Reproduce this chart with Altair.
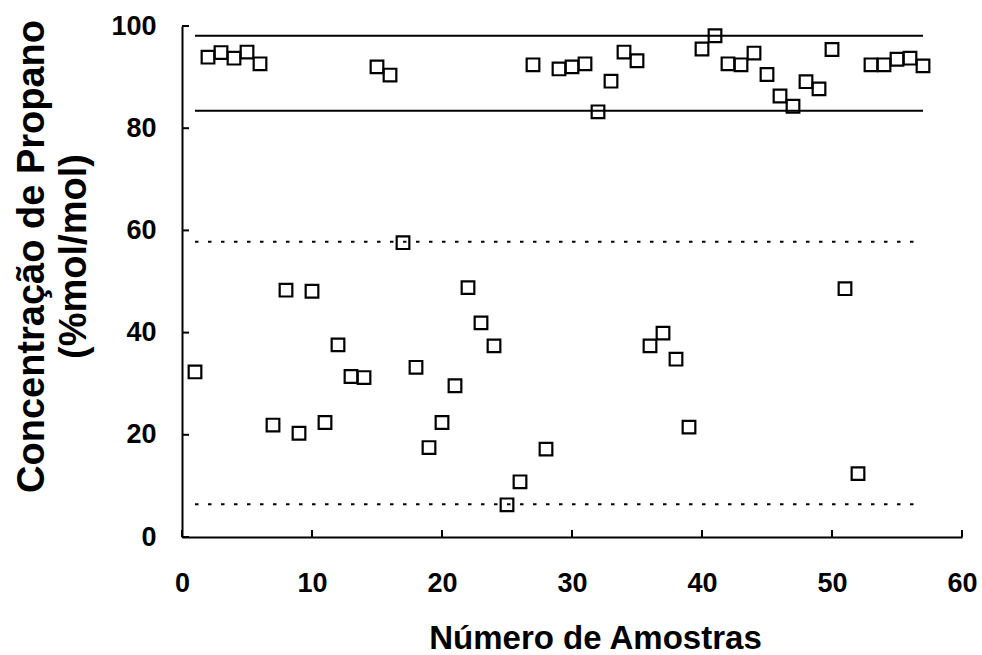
import altair as alt
import pandas as pd

# --- data ---
sample_no = list(range(1, 58))
concentration = [32.3, 93.9, 94.8, 93.7, 94.9, 92.6, 21.9, 48.3, 20.3, 48.1,
                 22.4, 37.6, 31.4, 31.2, 92.0, 90.4, 57.6, 33.2, 17.5, 22.4,
                 29.6, 48.8, 41.9, 37.4, 6.3, 10.8, 92.4, 17.2, 91.6, 92.0,
                 92.6, 83.2, 89.2, 94.9, 93.2, 37.4, 39.9, 34.8, 21.5, 95.5,
                 98.1, 92.6, 92.4, 94.7, 90.5, 86.3, 84.3, 89.1, 87.7, 95.4,
                 48.6, 12.4, 92.4, 92.4, 93.5, 93.7, 92.2]
solid_limits = [98.1, 83.4]
dotted_limits = [57.8, 6.4]
limit_start = 1
limit_end = 57
x_ticks = [0, 10, 20, 30, 40, 50, 60]
y_ticks = [0, 20, 40, 60, 80, 100]

W, H = 780, 511
FONT = "Liberation Sans"

pts = pd.DataFrame({"n": sample_no, "c": concentration})
solid_df = pd.DataFrame({"y": solid_limits, "x1": limit_start, "x2": limit_end})
dotted_df = pd.DataFrame({"y": dotted_limits, "x1": limit_start, "x2": limit_end})
xt_df = pd.DataFrame({"t": x_ticks})
yt_df = pd.DataFrame({"t": y_ticks})

xscale = alt.Scale(domain=[0, 60], nice=False, zero=False)
yscale = alt.Scale(domain=[0, 100], nice=False, zero=False)

xaxis = alt.Axis(
    values=x_ticks, ticks=False, grid=False, domainColor="black", domainWidth=2,
    labelFont=FONT, labelFontWeight="bold", labelFontSize=27, labelColor="black",
    labelPadding=33, labelFlush=False,
    title="Número de Amostras", titleFont=FONT, titleFontWeight="bold",
    titleFontSize=33, titleColor="black", titleX=413, titleY=111,
    titleBaseline="alphabetic", titleAlign="center",
)
yaxis = alt.Axis(
    values=y_ticks, ticks=False, grid=False, domainColor="black", domainWidth=2,
    labelFont=FONT, labelFontWeight="bold", labelFontSize=27, labelColor="black",
    labelPadding=26, labelFlush=False,
    title=["Concentração de Propano", "(%mol/mol)"], titleFont=FONT,
    titleFontWeight="bold", titleFontSize=38, titleColor="black",
    titleX=-139, titleY=230, titleAngle=270, titleAlign="center",
    titleBaseline="alphabetic", titleLineHeight=42,
)

points = alt.Chart(pts).mark_point(
    shape="square", filled=False, stroke="black", strokeWidth=2.2, size=160, opacity=1
).encode(
    x=alt.X("n:Q", scale=xscale, axis=xaxis),
    y=alt.Y("c:Q", scale=yscale, axis=yaxis),
)

solid = alt.Chart(solid_df).mark_rule(color="black", strokeWidth=2).encode(
    x=alt.X("x1:Q", scale=xscale), x2="x2:Q", y=alt.Y("y:Q", scale=yscale)
)
dotted = alt.Chart(dotted_df).mark_rule(color="black", strokeWidth=2, strokeDash=[3.5, 9.5]).encode(
    x=alt.X("x1:Q", scale=xscale), x2="x2:Q", y=alt.Y("y:Q", scale=yscale)
)

xticks = alt.Chart(xt_df).mark_rule(color="black", strokeWidth=2).encode(
    x=alt.X("t:Q", scale=xscale), y=alt.value(H), y2=alt.value(H - 7)
)
yticks = alt.Chart(yt_df).mark_rule(color="black", strokeWidth=2).encode(
    y=alt.Y("t:Q", scale=yscale), x=alt.value(0), x2=alt.value(7)
)

chart = alt.layer(solid, dotted, xticks, yticks, points).properties(
    width=W, height=H,
    autosize=alt.AutoSizeParams(type="none"),
    padding={"left": 182, "top": 26, "right": 20, "bottom": 118},
    background="white",
).configure_view(stroke=None)

chart.save("out.html", embed_options={"renderer": "svg", "actions": False})
